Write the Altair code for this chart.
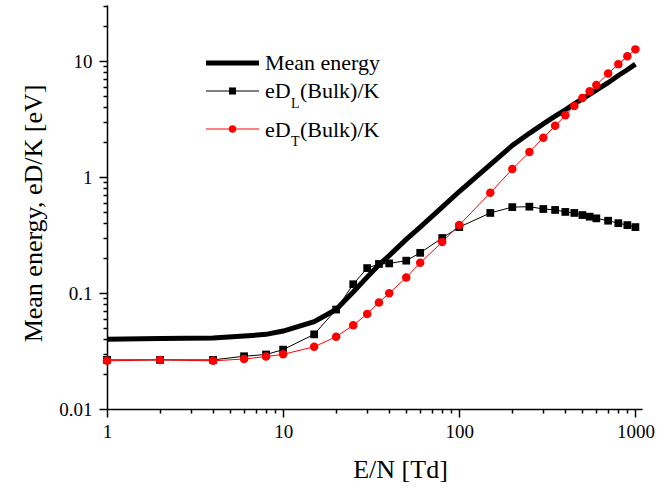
import altair as alt
import pandas as pd

# E/N values [Td]
en = [1, 2, 4, 6, 8, 10, 15, 20, 25, 30, 35, 40, 50, 60, 80, 100, 150, 200,
      250, 300, 350, 400, 450, 500, 550, 600, 700, 800, 900, 1000]
# Mean energy [eV]
mean_energy = [0.040, 0.0405, 0.041, 0.0425, 0.044, 0.047, 0.0565, 0.072, 0.102,
               0.137, 0.175, 0.21, 0.29, 0.37, 0.55, 0.75, 1.28, 1.87, 2.38, 2.87,
               3.35, 3.8, 4.27, 4.72, 5.15, 5.6, 6.5, 7.5, 8.4, 9.4]
# eD_L(Bulk)/K [eV]
ed_l = [0.0265, 0.0265, 0.0265, 0.0285, 0.0295, 0.0325, 0.044, 0.072, 0.119, 0.164,
        0.178, 0.18, 0.19, 0.222, 0.298, 0.37, 0.49, 0.55, 0.555, 0.53, 0.52, 0.50,
        0.49, 0.47, 0.455, 0.44, 0.42, 0.40, 0.385, 0.37]
# eD_T(Bulk)/K [eV]
ed_t = [0.026, 0.0265, 0.026, 0.027, 0.0283, 0.0296, 0.0344, 0.042, 0.0527, 0.066,
        0.083, 0.0995, 0.136, 0.182, 0.275, 0.385, 0.73, 1.17, 1.64, 2.18, 2.76,
        3.4, 4.1, 4.8, 5.5, 6.2, 7.8, 9.4, 11.0, 12.6]

x_major = [1, 10, 100, 1000]
y_major = [0.01, 0.1, 1, 10]
x_ticks = [1, 2, 3, 4, 5, 6, 7, 8, 9, 10, 20, 30, 40, 50, 60, 70, 80, 90,
           100, 200, 300, 400, 500, 600, 700, 800, 900, 1000]
y_ticks = [0.01, 0.02, 0.03, 0.04, 0.05, 0.06, 0.07, 0.08, 0.09,
           0.1, 0.2, 0.3, 0.4, 0.5, 0.6, 0.7, 0.8, 0.9,
           1, 2, 3, 4, 5, 6, 7, 8, 9, 10, 20, 30]

df = pd.DataFrame({"E": en, "mean": mean_energy, "DL": ed_l, "DT": ed_t})

FONT = "Liberation Serif"
xmaj = " || ".join(f"datum.value == {v}" for v in x_major)
ymaj = " || ".join(f"datum.value == {v}" for v in y_major)

common_axis = dict(
    grid=False, domainColor="black", domainWidth=1.5, tickColor="black",
    tickWidth=1.5, format="~g", labelFont=FONT, labelFontSize=19,
    labelColor="black", labelOverlap=False, labelFlush=False, labelBound=False,
    titleFont=FONT, titleFontSize=26, titleFontWeight="normal", titleColor="black",
)

x_axis = alt.Axis(
    values=x_ticks, title="E/N [Td]",
    tickSize={"condition": {"test": xmaj, "value": 8}, "value": 4},
    labelExpr=f"({xmaj}) ? datum.label : ''", labelPadding=5,
    titleX=293, titleY=68, titleAlign="center", titleBaseline="alphabetic",
    **common_axis,
)
y_axis = alt.Axis(
    values=y_ticks, title="Mean energy, eD/K [eV]",
    tickSize={"condition": {"test": ymaj, "value": 8}, "value": 4},
    labelExpr=f"({ymaj}) ? datum.label : ''", labelPadding=7,
    titleX=-66, titleY=208, titleAlign="center", titleBaseline="alphabetic",
    titleAngle=-90,
    **common_axis,
)

xs = alt.Scale(type="log", domain=[1, 1090], nice=False)
ys = alt.Scale(type="log", domain=[0.01, 30.4], nice=False)

X = alt.X("E:Q", scale=xs, axis=x_axis)


def Y(field):
    return alt.Y(f"{field}:Q", scale=ys, axis=y_axis)


base = alt.Chart(df)
mean_line = base.mark_line(color="black", strokeWidth=5).encode(x=X, y=Y("mean"))
dl_line = base.mark_line(color="black", strokeWidth=1).encode(x=X, y=Y("DL"))
dl_pts = base.mark_point(shape="square", filled=True, size=60, color="black",
                         opacity=1).encode(x=X, y=Y("DL"))
dt_line = base.mark_line(color="#ff0000", strokeWidth=1).encode(x=X, y=Y("DT"))
dt_pts = base.mark_point(shape="circle", filled=True, size=72, color="#ff0000",
                         opacity=1).encode(x=X, y=Y("DT"))

# manual legend
dummy = alt.Data(values=[{"k": 1}])
leg = alt.Chart(dummy)
lx1, lx2, lxm = 99, 152, 125.5
ly = [58, 86, 124]
leg_items = [
    leg.mark_rule(color="black", strokeWidth=5).encode(
        x=alt.value(lx1), x2=alt.value(lx2), y=alt.value(ly[0])),
    leg.mark_rule(color="black", strokeWidth=1).encode(
        x=alt.value(lx1), x2=alt.value(lx2), y=alt.value(ly[1])),
    leg.mark_point(shape="square", filled=True, size=50, color="black", opacity=1).encode(
        x=alt.value(lxm), y=alt.value(ly[1])),
    leg.mark_rule(color="#ff0000", strokeWidth=1).encode(
        x=alt.value(lx1), x2=alt.value(lx2), y=alt.value(ly[2])),
    leg.mark_point(shape="circle", filled=True, size=55, color="#ff0000", opacity=1).encode(
        x=alt.value(lxm), y=alt.value(ly[2])),
]


def txt(s, x, y, size):
    return leg.mark_text(align="left", baseline="alphabetic", font=FONT,
                         fontSize=size, color="black").encode(
        x=alt.value(x), y=alt.value(y), text=alt.value(s))


leg_texts = [
    txt("Mean energy", 158, 65, 22),
    txt("eD", 158, 93, 22),
    txt("L", 184, 103, 14),
    txt("(Bulk)/K", 193, 93, 22),
    txt("eD", 158, 132, 22),
    txt("T", 184, 141, 14),
    txt("(Bulk)/K", 193, 132, 22),
]

chart = alt.layer(
    mean_line, dl_line, dl_pts, dt_line, dt_pts, *leg_items, *leg_texts
).properties(
    width=535, height=404,
    padding={"left": 107, "top": 5, "right": 28, "bottom": 79},
    autosize=alt.AutoSizeParams(type="none"),
    background="white",
).configure_view(stroke=None)

chart.save("out.html", embed_options={"renderer": "svg", "actions": False})
